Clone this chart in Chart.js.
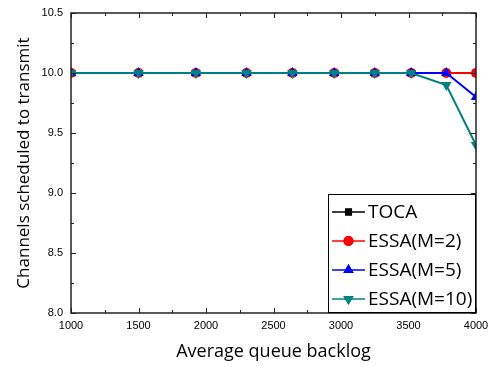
<!DOCTYPE html>
<html>
<head>
<meta charset="utf-8">
<script src="https://cdn.jsdelivr.net/npm/chart.js@4/dist/chart.umd.min.js"></script>
<style>
  html, body { margin: 0; padding: 0; background: #fff; }
  #wrap { width: 492px; height: 367px; }
</style>
</head>
<body>
<div id="wrap"><canvas id="chart" width="492" height="367"></canvas></div>
<script>
// backlog values on the x axis and channel counts per scheme
const backlog = [1000, 1500, 1925, 2300, 2640, 2950, 3250, 3520, 3780, 4000]
const toca   = [10, 10, 10, 10, 10, 10, 10, 10, 10, 10]
const essaM2 = [10, 10, 10, 10, 10, 10, 10, 10, 10, 10]
const essaM5 = [10, 10, 10, 10, 10, 10, 10, 10, 10, 9.8]
const essaM10 = [10, 10, 10, 10, 10, 10, 10, 10, 9.9, 9.4]
const xTicks = [1000, 1500, 2000, 2500, 3000, 3500, 4000]
const yTicks = [8.0, 8.5, 9.0, 9.5, 10.0, 10.5]

const series = [
  { label: "TOCA", data: toca, color: "#000000", pointStyle: "rect", radius: 5, rotation: 0 },
  { label: "ESSA(M=2)", data: essaM2, color: "#ff0000", pointStyle: "circle", radius: 5, rotation: 0 },
  { label: "ESSA(M=5)", data: essaM5, color: "#0000ff", pointStyle: "triangle", radius: 6, rotation: 0 },
  { label: "ESSA(M=10)", data: essaM10, color: "#008080", pointStyle: "triangle", radius: 6, rotation: 180 }
]

const axisFont = { family: "'Liberation Sans', Arial, sans-serif", size: 11 }
const titleFont = { family: "'Open Sans', sans-serif", size: 17 }

// inward ticks on all four sides plus the closed frame
const frame = {
  id: "frame",
  afterDatasetsDraw(chart) {
    const { ctx, chartArea: a, scales: { x, y } } = chart
    ctx.save()
    ctx.strokeStyle = "#222"
    ctx.lineWidth = 1.5
    ctx.strokeRect(a.left, a.top, a.right - a.left, a.bottom - a.top)
    ctx.lineWidth = 1
    ctx.beginPath()
    for (let v = 1000; v <= 4000; v += 250) {
      const px = Math.round(x.getPixelForValue(v)) + 0.5
      const len = v % 500 === 0 ? 5 : 3
      ctx.moveTo(px, a.bottom); ctx.lineTo(px, a.bottom - len)
      ctx.moveTo(px, a.top); ctx.lineTo(px, a.top + len)
    }
    for (let v = 8.0; v <= 10.5001; v += 0.25) {
      const py = Math.round(y.getPixelForValue(v)) + 0.5
      const len = Math.abs(v * 2 - Math.round(v * 2)) < 1e-6 ? 5 : 3
      ctx.moveTo(a.left, py); ctx.lineTo(a.left + len, py)
      ctx.moveTo(a.right, py); ctx.lineTo(a.right - len, py)
    }
    ctx.stroke()
    ctx.restore()
  },
  afterDraw(chart) {
    const { ctx, chartArea: a } = chart
    const box = { left: 328, top: 194, right: a.right, bottom: a.bottom }
    ctx.save()
    ctx.fillStyle = "#fff"
    ctx.fillRect(box.left, box.top, box.right - box.left, box.bottom - box.top)
    ctx.strokeStyle = "#000"
    ctx.lineWidth = 1
    ctx.strokeRect(box.left + 0.5, box.top + 0.5, box.right - box.left - 1, box.bottom - box.top - 1)
    ctx.font = "19px 'Open Sans', sans-serif"
    ctx.textBaseline = "middle"
    series.forEach((s, i) => {
      const cy = box.top + 18 + i * 29
      ctx.strokeStyle = s.color
      ctx.lineWidth = 1.5
      ctx.beginPath(); ctx.moveTo(332, cy); ctx.lineTo(365, cy); ctx.stroke()
      ctx.fillStyle = s.color
      Chart.helpers.drawPoint(ctx, { pointStyle: s.pointStyle, radius: s.radius, rotation: s.rotation, borderWidth: 0 }, 348.5, cy)
      ctx.fill()
      ctx.fillStyle = "#000"
      ctx.fillText(s.label, 368, cy + 1)
    })
    ctx.restore()
  }
}

new Chart(document.getElementById("chart"), {
  type: "line",
  data: {
    datasets: series.map((s, i) => ({
      label: s.label,
      data: backlog.map((b, j) => ({ x: b, y: s.data[j] })),
      borderColor: s.color,
      backgroundColor: s.color,
      borderWidth: 2,
      pointStyle: s.pointStyle,
      pointRadius: s.radius,
      pointRotation: s.rotation,
      pointBorderWidth: 0,
      order: series.length - i,
      tension: 0
    }))
  },
  options: {
    responsive: false,
    animation: false,
    layout: { padding: { top: 13, right: 16 } },
    plugins: { legend: { display: false }, tooltip: { enabled: false } },
    scales: {
      x: {
        type: "linear",
        min: 1000, max: 4000,
        afterBuildTicks: (s) => { s.ticks = xTicks.map((v) => ({ value: v })) },
        afterFit: (s) => { s.height = 54; s.paddingLeft = 0; s.paddingRight = 0 },
        grid: { drawOnChartArea: false, drawTicks: false },
        border: { display: false },
        ticks: { color: "#000", font: axisFont, padding: 6, maxRotation: 0, callback: (v) => String(v) },
        title: { display: true, text: "Average queue backlog", color: "#000", font: { ...titleFont, size: 18 }, padding: { top: 0, bottom: 4 } }
      },
      y: {
        min: 8.0, max: 10.5,
        afterBuildTicks: (s) => { s.ticks = yTicks.map((v) => ({ value: v })) },
        afterFit: (s) => { s.width = 71; s.paddingTop = 0; s.paddingBottom = 0 },
        grid: { drawOnChartArea: false, drawTicks: false },
        border: { display: false },
        ticks: { color: "#000", font: axisFont, padding: 8, callback: (v) => v.toFixed(1) },
        title: { display: true, text: "Channels scheduled to transmit", color: "#000", font: titleFont, padding: { top: 14, bottom: 0 } }
      }
    }
  },
  plugins: [frame]
})
</script>
</body>
</html>
